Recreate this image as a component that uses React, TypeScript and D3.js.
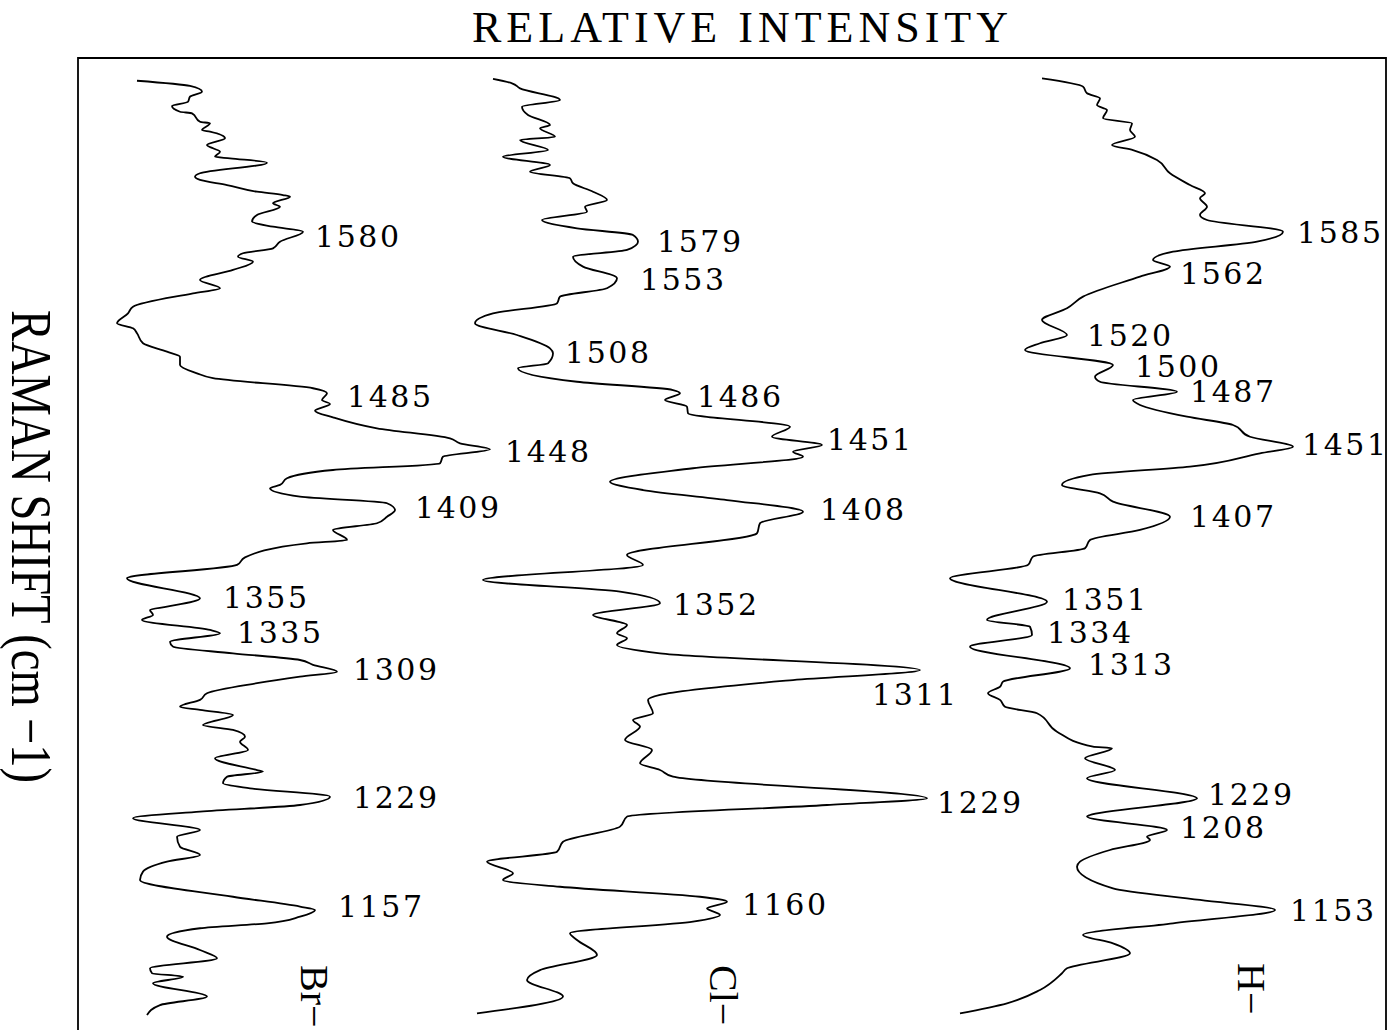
import React from 'react';
import * as d3 from 'd3';

// ---- Data (Raman shift in cm-1, relative intensity) ----
const brShift = [1678.9,1675.6,1672.0,1668.9,1665.7,1663.0,1659.4,1658.4,1653.1,1652.1,
1647.9,1646.9,1642.7,1638.5,1636.4,1634.3,1631.1,1630.1,1627.4,1620.7,
1618.6,1616.5,1613.3,1609.1,1607.0,1606.0,1601.8,1599.7,1594.5,1590.3,
1587.1,1584.0,1577.7,1573.5,1570.4,1568.2,1565.1,1559.9,1553.6,1548.4,
1545.2,1536.8,1532.6,1526.4,1523.2,1520.1,1513.8,1508.5,1505.3,1500.1,
1494.9,1491.8,1485.5,1482.3,1478.1,1475.6,1471.4,1467.2,1460.3,1454.0,
1450.9,1447.1,1442.5,1438.3,1434.1,1428.9,1424.7,1422.6,1417.3,1413.2,
1408.9,1404.7,1400.6,1396.4,1390.1,1388.0,1379.1,1374.4,1366.0,1353.4,
1348.1,1346.1,1342.9,1339.8,1333.5,1331.4,1326.1,1323.0,1318.8,1314.6,
1311.5,1307.2,1304.1,1300.0,1293.7,1289.5,1285.2,1283.2,1280.0,1273.7,
1270.6,1266.4,1263.2,1258.0,1252.8,1245.4,1244.4,1241.2,1237.1,1233.9,
1228.6,1223.4,1219.2,1215.1,1207.7,1203.5,1197.2,1192.0,1187.8,1181.5,
1176.2,1165.7,1159.5,1157.4,1153.2,1149.0,1145.9,1140.6,1132.2,1127.0,
1120.7,1117.6,1115.4,1111.3,1102.9,1097.6,1091.3];
const brIntensity = [1.9,7.2,8.4,7.2,7.0,5.4,6.2,7.4,8.2,9.2,
8.4,9.2,10.7,8.9,9.5,10.2,9.7,11.2,14.9,8.2,
7.7,8.2,10.9,13.9,16.5,17.2,15.5,16.2,13.9,13.4,
15.5,18.5,16.2,15.5,12.5,12.0,13.5,11.5,8.2,10.2,
7.5,1.5,1.0,-0.1,1.5,1.9,2.5,4.9,6.2,6.2,
7.9,9.5,19.5,20.9,20.4,21.2,19.7,21.5,25.9,33.2,
34.2,37.2,32.5,32.2,21.5,16.9,16.2,15.2,18.2,26.9,
27.7,26.9,25.9,21.5,22.9,18.9,12.7,11.9,0.9,8.2,
4.9,3.2,3.5,2.4,9.2,10.2,5.2,5.5,11.5,18.2,
19.5,21.9,18.2,13.9,8.9,8.2,6.2,8.2,11.5,8.5,
11.5,12.7,12.2,13.0,9.7,13.9,14.5,10.9,10.5,13.2,
21.2,18.2,8.2,1.5,8.2,5.9,6.2,8.2,4.9,2.5,
2.2,11.5,18.2,19.7,18.2,14.9,8.2,4.9,8.2,9.9,
3.2,3.4,6.5,3.5,8.9,4.2,2.9];

const clShift = [1680.0,1677.3,1674.1,1666.8,1662.6,1657.4,1651.1,1649.0,1643.7,1641.6,
1635.3,1631.1,1625.9,1621.7,1617.5,1614.4,1609.1,1603.9,1599.7,1596.5,
1591.3,1586.1,1581.9,1577.7,1572.5,1568.2,1562.0,1554.7,1548.4,1543.1,
1538.9,1532.6,1526.4,1519.0,1510.6,1507.5,1501.2,1498.1,1489.6,1484.4,
1482.3,1478.1,1473.9,1469.8,1461.3,1455.0,1449.8,1445.6,1442.5,1435.2,
1426.7,1421.5,1415.2,1407.9,1400.6,1394.3,1380.6,1374.4,1364.9,1357.6,
1350.3,1342.9,1336.6,1331.4,1328.3,1324.0,1318.8,1308.3,1302.0,1292.6,
1289.5,1281.1,1276.9,1272.7,1264.3,1258.0,1249.6,1245.4,1241.2,1227.6,
1223.4,1216.1,1209.8,1200.3,1194.0,1187.8,1180.5,1176.2,1172.0,1165.7,
1162.6,1158.4,1154.2,1150.0,1142.7,1138.5,1129.1,1119.6,1113.4,1102.9,
1092.4];
const clIntensity = [2.5,4.4,5.2,9.2,5.4,6.0,8.2,7.2,8.7,5.2,
8.0,3.5,8.2,6.2,10.2,10.5,12.5,13.9,11.7,11.9,
7.4,10.9,16.5,17.0,15.9,10.5,11.5,14.9,13.9,9.2,
8.9,2.5,0.7,4.9,8.2,8.5,8.0,5.0,10.9,20.5,
21.2,19.7,21.9,22.0,32.2,30.4,35.4,32.5,33.5,22.5,
14.2,17.5,25.9,33.5,29.2,28.9,15.9,17.5,1.5,15.2,
19.2,12.5,15.9,14.9,15.9,14.9,19.2,45.2,32.5,19.2,
18.0,18.5,16.5,17.2,15.7,18.4,17.2,19.2,20.5,45.9,
35.9,15.9,15.2,9.5,8.9,1.9,4.5,3.5,9.2,23.2,
25.9,23.9,25.2,22.5,10.2,10.9,12.9,7.2,5.9,9.5,
0.9];

const hShift = [1680.4,1675.2,1671.0,1667.9,1663.6,1660.5,1655.3,1652.1,1647.9,1643.7,
1638.5,1635.3,1629.1,1620.7,1613.3,1608.1,1605.0,1599.7,1594.5,1591.3,
1584.0,1577.7,1571.4,1566.2,1562.0,1555.7,1543.1,1535.8,1528.4,1519.0,
1513.8,1509.6,1500.1,1492.8,1489.6,1483.3,1478.1,1475.0,1467.6,1462.4,
1455.0,1448.7,1444.6,1436.2,1431.0,1424.7,1419.4,1414.2,1404.7,1396.4,
1390.1,1384.9,1379.6,1374.4,1366.0,1351.3,1339.8,1335.5,1330.3,1323.0,
1309.4,1301.0,1297.8,1293.7,1289.5,1285.2,1281.1,1269.5,1260.1,1259.1,
1252.8,1245.4,1240.2,1227.6,1217.1,1216.1,1207.7,1203.5,1201.4,1195.1,
1187.8,1184.6,1171.0,1163.7,1157.4,1149.0,1141.7,1136.4,1130.1,1120.7,
1117.6,1107.1,1098.7,1092.4];
const hIntensity = [9.4,13.5,13.9,15.2,14.9,15.9,15.5,18.4,18.2,18.7,
16.4,18.5,20.9,22.2,24.2,25.7,25.2,25.9,25.2,25.9,
33.5,30.9,22.5,20.5,22.2,19.2,13.5,11.9,9.4,11.9,
9.2,7.7,16.5,14.7,15.2,22.9,18.5,19.2,23.9,28.5,
30.2,34.5,31.2,24.2,14.2,11.4,15.2,16.5,22.2,19.2,
14.2,13.7,8.5,8.0,0.2,9.9,3.9,8.2,8.4,2.2,
12.2,5.5,5.2,4.0,5.2,5.7,8.9,10.9,14.5,16.4,
13.7,16.7,13.9,24.9,14.2,13.9,21.9,19.9,20.2,16.2,
13.2,12.9,16.5,25.2,32.7,22.5,13.5,16.5,18.2,11.9,
11.4,9.2,5.9,1.2];

// Peak annotations (text, and anchor in data coordinates)
const brPeakLabels = ['1580','1485','1448','1409','1355','1335','1309','1229','1157'];
const brPeakShift = [1574.3,1473.7,1439.1,1403.9,1347.3,1325.3,1302.0,1221.5,1153.0];
const brPeakIntensity = [19.7,22.9,38.7,29.7,10.5,11.9,23.5,23.5,22.0];

const clPeakLabels = ['1579','1553','1508','1486','1451','1408','1352','1311','1229','1160'];
const clPeakShift = [1571.2,1547.3,1501.4,1473.7,1446.7,1402.7,1342.9,1286.3,1218.4,1154.2];
const clPeakIntensity = [18.9,17.2,9.7,22.9,35.9,35.2,20.5,40.4,46.9,27.4];

const hPeakLabels = ['1585','1562','1520','1500','1487','1451','1407','1351','1334','1313','1229','1208','1153'];
const hPeakShift = [1576.9,1551.1,1512.1,1492.6,1476.9,1443.5,1398.2,1346.0,1325.3,1305.2,1223.4,1202.7,1150.5];
const hPeakIntensity = [34.9,23.2,13.9,18.7,24.2,35.4,24.2,11.4,9.9,14.0,26.0,23.2,34.2];

const seriesNames = ['Br−', 'Cl−', 'H−'];
const seriesNameShift = [1122.8, 1122.8, 1124.0];
const seriesNameIntensity = [19.6, 25.5, 30.3];

const titleText = 'RELATIVE INTENSITY';
const yAxisText = 'RAMAN SHIFT (cm −1)';

// ---- Layout ----
const W = 1391;
const H = 1030;
const FRAME = { left: 78, right: 1386, top: 58, bottom: 1030 };
const seriesOffsets = [4, 39, 87];

export default function App() {
  const x = d3.scaleLinear().domain([0, 130.8]).range([FRAME.left, FRAME.right]);
  const y = d3.scaleLinear().domain([1693.2, 1081.9]).range([FRAME.top, FRAME.bottom]);

  const series = [
    { shift: brShift, inten: brIntensity, labels: brPeakLabels, ls: brPeakShift, li: brPeakIntensity },
    { shift: clShift, inten: clIntensity, labels: clPeakLabels, ls: clPeakShift, li: clPeakIntensity },
    { shift: hShift, inten: hIntensity, labels: hPeakLabels, ls: hPeakShift, li: hPeakIntensity },
  ];

  const makeLine = (off: number) =>
    d3
      .line<[number, number]>()
      .x((d) => x(off + d[1]))
      .y((d) => y(d[0]))
      .curve(d3.curveMonotoneY);

  const serif = '"Liberation Serif", serif';
  const digitFont = '"DejaVu Serif", serif';

  return (
    <svg
      width={W}
      height={H}
      style={{ position: 'absolute', left: 0, top: 0, background: '#fff' }}
    >
      <rect x={0} y={0} width={W} height={H} fill="#fff" />
      {/* title */}
      <text
        x={472}
        y={42}
        fontFamily={serif}
        fontSize={44}
        textLength={536}
        lengthAdjust="spacing"
        fill="#000"
      >
        {titleText}
      </text>
      {/* y axis label */}
      <text
        transform={`translate(12,310) rotate(90)`}
        fontFamily={serif}
        fontSize={57}
        textLength={473}
        lengthAdjust="spacingAndGlyphs"
        fill="#000"
      >
        {yAxisText}
      </text>
      {/* frame */}
      <path
        d={`M${FRAME.left},${FRAME.bottom + 5}V${FRAME.top}H${FRAME.right}V${FRAME.bottom + 5}`}
        fill="none"
        stroke="#000"
        strokeWidth={1.8}
      />
      {series.map((s, i) => {
        const pts: [number, number][] = s.shift.map((v, k) => [v, s.inten[k]]);
        const off = seriesOffsets[i];
        return (
          <g key={i}>
            <path d={makeLine(off)(pts) || ''} fill="none" stroke="#000" strokeWidth={1.8} strokeLinejoin="round" />
            {s.labels.map((t, k) => (
              <text
                key={k}
                x={x(off + s.li[k])}
                y={y(s.ls[k])}
                fontFamily={digitFont}
                fontSize={30}
                textLength={84}
                lengthAdjust="spacing"
                fill="#000"
              >
                {t}
              </text>
            ))}
            <text
              transform={`translate(${x(off + seriesNameIntensity[i])},${y(seriesNameShift[i])}) rotate(90)`}
              fontFamily={serif}
              fontSize={40}
              dominantBaseline="central"
              fill="#000"
            >
              {seriesNames[i]}
            </text>
          </g>
        );
      })}
    </svg>
  );
}
